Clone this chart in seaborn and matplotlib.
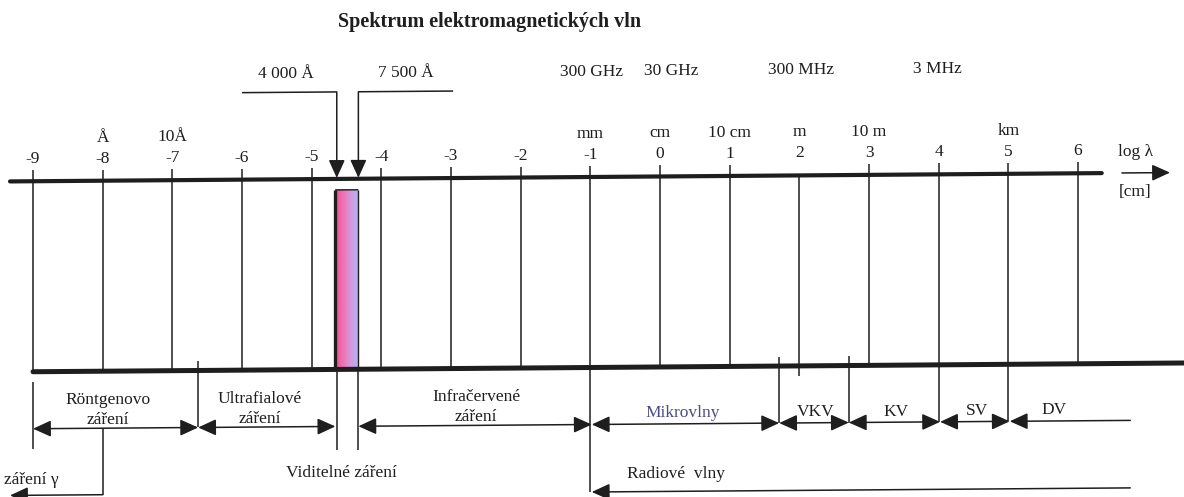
import numpy as np
import pandas as pd
import matplotlib
matplotlib.use("Agg")
import matplotlib.pyplot as plt
import seaborn as sns
from matplotlib.colors import LinearSegmentedColormap
from matplotlib.patches import FancyArrowPatch

# positions on the scale are log(lambda / cm)
tick_values = [-9, -8, -7, -6, -5, -4, -3, -2, -1, 0, 1, 2, 3, 4, 5, 6]
unit_ticks = [-8, -7, -1, 0, 1, 2, 3, 5]
unit_labels = ["Å", "10Å", "mm", "cm", "10 cm", "m", "10 m", "km"]

freq_labels = ["300 GHz", "30 GHz", "300 MHz", "3 MHz"]
freq_pos = [-0.98, 0.16, 2.02, 3.98]

visible_edges = [-4.64, -4.33]
visible_labels = ["4 000 Å", "7 500 Å"]
visible_label_pos = [-5.37, -3.65]
visible_bracket_end = [-6.0, -2.97]

# bands under the scale
band_names = ["Röntgenovo\nzáření", "Ultrafialové\nzáření", "Infračervené\nzáření",
              "Mikrovlny", "VKV", "KV", "SV", "DV"]
band_start = [-9.0, -6.63, -4.33, -0.98, 1.71, 2.71, 4.02, 5.02]
band_end = [-6.63, -4.66, -0.98, 1.71, 2.71, 4.02, 5.02, 6.75]
band_label_pos = [-7.92, -5.74, -2.64, 0.33, 2.24, 3.39, 4.55, 5.65]
band_colors = ["#1e1e1e", "#1e1e1e", "#1e1e1e", "#4a4a8c", "#1e1e1e", "#1e1e1e", "#1e1e1e", "#1e1e1e"]
band_bounds = [-6.63, 1.71, 2.71]

gamma_from, gamma_to = -8.0, -9.33
radio_start, radio_end = -0.98, 6.75

# ---- style ----
sns.set_style("white")
plt.rcParams["font.family"] = ["Liberation Serif", "DejaVu Serif"]
INK = "#1e1e1e"
FS = 12.5

fig = plt.figure(figsize=(11.84, 4.97), dpi=100)
ax = fig.add_axes([0, 0, 1, 1])

# the scan is a little rotated: y grows slightly to the left
TILT = 0.53
def ty(x, y):
    return y + TILT * (-1 - x)

# vertical levels in pixels from top (at log λ = -1)
Y_TITLE, Y_TOPTXT, Y_BRACKET = 21, 72, 90
Y_UNIT, Y_NUM, Y_TICKTOP, Y_TOP = 134, 155, 166, 177
Y_VIS, Y_BOT = 188, 367.5
Y_BOUND, Y_L1, Y_L2, Y_ONE, Y_ARROW = 358, 396, 416, 414, 424.5
Y_VIS_TXT, Y_RADIO_TXT, Y_RADIO = 471, 475, 492


def line(x0, y0, x1, y1, lw=1.1):
    ax.plot([x0, x1], [ty(x0, y0), ty(x1, y1)], color=INK, lw=lw, solid_capstyle="butt")


def arrow(x0, y0, x1, y1, style="-|>"):
    ax.add_patch(FancyArrowPatch((x0, ty(x0, y0)), (x1, ty(x1, y1)),
                                 arrowstyle=f"{style},head_length=1.1,head_width=0.5",
                                 mutation_scale=10, lw=1.1, color=INK,
                                 shrinkA=0, shrinkB=0))


def label(x, y, s, **kw):
    kw.setdefault("ha", "center")
    kw.setdefault("color", INK)
    ax.text(x, ty(x, y), s, va="center", fontsize=kw.pop("fs", FS), **kw)


# main scale lines
top = pd.DataFrame({"x": [-9.33, 6.34], "y": [ty(-9.33, Y_TOP), ty(6.34, Y_TOP)]})
bot = pd.DataFrame({"x": [-9.0, 7.6], "y": [ty(-9.0, Y_BOT), ty(7.6, Y_BOT)]})
sns.lineplot(data=top, x="x", y="y", ax=ax, color=INK, lw=3.0)
sns.lineplot(data=bot, x="x", y="y", ax=ax, color=INK, lw=3.6)

# visible light strip
x0, x1 = -4.66, visible_edges[1]
grad = np.linspace(0, 1, 200).reshape(1, -1)
cmap = LinearSegmentedColormap.from_list("vis", ["#f0508f", "#f070b0", "#d898dc", "#b4b0f2"])
ax.imshow(grad, cmap=cmap, aspect="auto",
          extent=[x0, x1, ty(-4.5, Y_BOT), ty(-4.5, Y_VIS)], zorder=1)
line(x0, Y_VIS, x0, Y_BOT, lw=2.4)
line(x0, Y_VIS, x1, Y_VIS, lw=1.0)
line(x1, Y_VIS, x1, Y_BOT, lw=1.0)

# ticks, numbers and units
tick_top = {2: Y_TOP}
tick_bottom = {2: 378, -1: Y_RADIO, 4: Y_ARROW, 5: Y_ARROW}
for v in tick_values:
    line(v, tick_top.get(v, Y_TICKTOP), v, tick_bottom.get(v, Y_BOT))
    label(v, Y_NUM, str(v))
for v, s in zip(unit_ticks, unit_labels):
    label(v, Y_UNIT, s)

# frequencies along the top
for p, s in zip(freq_pos, freq_labels):
    label(p, Y_TOPTXT, s)

# 4000 Å / 7500 Å markers
for e, s, p, b in zip(visible_edges, visible_labels, visible_label_pos, visible_bracket_end):
    label(p, Y_TOPTXT, s)
    line(b, Y_BRACKET, e, Y_BRACKET)
    arrow(e, Y_BRACKET, e, Y_TOP - 1)

# log λ axis hint
label(6.82, 156, "log λ")
arrow(6.63, Y_TOP, 7.32, Y_TOP)
label(6.82, 196, "[cm]")

# band boundaries below the scale
line(-9.0, 378, -9.0, 445)
for v in band_bounds:
    line(v, Y_BOUND, v, Y_ARROW)
for v in visible_edges:
    line(v, Y_BOT, v, 448)

# bands with their arrows
for name, a, b, p, c in zip(band_names, band_start, band_end, band_label_pos, band_colors):
    if name == "DV":
        arrow(b, Y_ARROW, a, Y_ARROW)
    else:
        arrow(a, Y_ARROW, b, Y_ARROW, style="<|-|>")
    parts = name.split("\n")
    if len(parts) == 2:
        label(p, Y_L1, parts[0], color=c)
        label(p, Y_L2, parts[1], color=c)
    else:
        label(p, Y_ONE, name, color=c)

# gamma rays
line(gamma_from, Y_ARROW, gamma_from, 491)
arrow(gamma_from, 491, gamma_to, 491)
label(-9.42, 476, "záření γ", ha="left")

label(-4.57, Y_VIS_TXT, "Viditelné záření")

# radio waves
arrow(radio_end, Y_RADIO, radio_start, Y_RADIO)
label(0.23, Y_RADIO_TXT, "Radiové  vlny")

label(-2.44, Y_TITLE, "Spektrum elektromagnetických vln", fs=14.5, fontweight="bold")

ax.set_xlim(-9.474, 7.521)
ax.set_ylim(497, 0)
ax.axis("off")
fig.savefig("out.png", dpi=100, facecolor="white")
